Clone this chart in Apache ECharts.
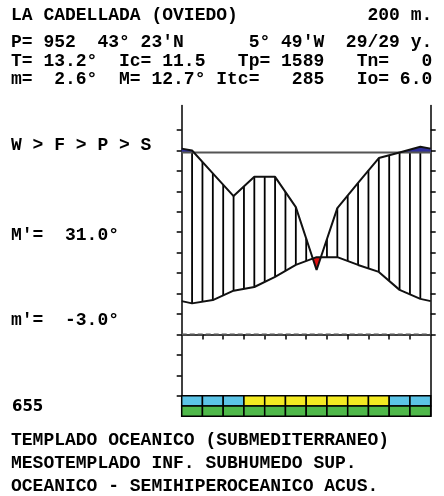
<!DOCTYPE html>
<html><head><meta charset="utf-8">
<script src="https://cdn.jsdelivr.net/npm/echarts@6/dist/echarts.min.js"></script>
<style>html,body{margin:0;padding:0;background:#fff}#c{width:444px;height:496px}</style>
</head><body><div id="c"></div>
<script>
// ---- data ----
const months = ['Jan','Feb','Mar','Apr','May','Jun','Jul','Aug','Sep','Oct','Nov','Dec'];
const temperature = [7.6, 8.4, 10.7, 11.6, 14.1, 17.0, 18.9, 18.9, 17.0, 15.3, 10.9, 8.7];
const precipitation = [99, 78.8, 67.7, 77.1, 77.1, 62.3, 31.5, 61.8, 74.1, 86.3, 89.4, 117];
const frostRow = ['C','C','C','W','W','W','W','W','W','W','C','C'];
const activityRow = ['G','G','G','G','G','G','G','G','G','G','G','G'];
const leftTicks = [-15,-10,-5,0,5,10,15,20,25,30,35,40,45,50];
const rightTicks = [0,5,10,15,20,25,30,35,40,45,50];
const monthTicks = [1,2,3,4,5,6,7,8,9,10,11];
const headerLines = [
  "LA CADELLADA (OVIEDO)            200 m.",
  "P= 952  43° 23'N      5° 49'W  29/29 y.",
  "T= 13.2°  Ic= 11.5   Tp= 1589   Tn=   0",
  "m=  2.6°  M= 12.7° Itc=   285   Io= 6.0"
];
const sideTexts = ["W > F > P > S", "M'=  31.0°", "m'=  -3.0°"];
const stationCode = "655";
const footerLines = [
  "TEMPLADO OCEANICO (SUBMEDITERRANEO)",
  "MESOTEMPLADO INF. SUBHUMEDO SUP.",
  "OCEANICO - SEMIHIPEROCEANICO ACUS."
];
const P_THRESHOLD = 89;   // mm, level of the horizontal line

// ---- derived ----
const THR = P_THRESHOLD / 2;
const pPlot = mm => mm <= P_THRESHOLD ? mm / 2 : THR + (mm - P_THRESHOLD) / 20;
const pUnits = precipitation.map(pPlot);
const knotsX = [0].concat(months.map((m, i) => i + 0.5), [12]);
const wrap = a => { const e = (a[0] + a[a.length - 1]) / 2; return [e].concat(a, [e]); };
const tK = wrap(temperature);
const pK = wrap(pUnits);
const thrK = knotsX.map(() => THR);
function interp(arr, x) {
  for (let i = 1; i < knotsX.length; i++) {
    if (x <= knotsX[i]) {
      const t = (x - knotsX[i - 1]) / (knotsX[i] - knotsX[i - 1]);
      return arr[i - 1] + t * (arr[i] - arr[i - 1]);
    }
  }
  return arr[arr.length - 1];
}
function regions(A, B, api) {
  const polys = []; let cur = null;
  for (let i = 0; i < knotsX.length; i++) {
    const d = A[i] - B[i];
    if (i > 0) {
      const dp = A[i - 1] - B[i - 1];
      if ((dp > 0) !== (d > 0)) {
        const t = dp / (dp - d);
        const x = knotsX[i - 1] + t * (knotsX[i] - knotsX[i - 1]);
        const y = A[i - 1] + t * (A[i] - A[i - 1]);
        if (cur) { cur.top.push([x, y]); cur.bot.push([x, y]); polys.push(cur); cur = null; }
        else { cur = { top: [[x, y]], bot: [[x, y]] }; }
      }
    }
    if (d > 0) {
      if (!cur) cur = { top: [], bot: [] };
      cur.top.push([knotsX[i], A[i]]); cur.bot.push([knotsX[i], B[i]]);
    }
  }
  if (cur) polys.push(cur);
  return polys.map(p => p.top.concat(p.bot.slice().reverse()).map(pt => api.coord(pt)));
}
function renderFills(params, api) {
  const children = [];
  regions(pK, thrK, api).forEach(pts => children.push({ type: 'polygon', shape: { points: pts }, style: { fill: '#2e2e9c' } }));
  regions(tK, pK, api).forEach(pts => children.push({ type: 'polygon', shape: { points: pts }, style: { fill: '#e01010' } }));
  for (let k = 1; k <= 23; k++) {
    const x = k * 0.5;
    const top = Math.min(interp(pK, x), THR);
    const bot = interp(tK, x);
    if (top > bot) {
      const a = api.coord([x, top]), b = api.coord([x, bot]);
      children.push({ type: 'line', shape: { x1: a[0], y1: a[1], x2: b[0], y2: b[1] }, style: { stroke: '#000', lineWidth: 1.8 } });
    }
  }
  return { type: 'group', children };
}
const cellColors = { C: '#5cc4e6', W: '#f3ea22', G: '#4fb84a' };
const cellData = [];
frostRow.forEach((c, i) => cellData.push([i, 0, c]));
activityRow.forEach((c, i) => cellData.push([i, 1, c]));
function renderCell(params, api) {
  const i = api.value(0), r = api.value(1);
  const code = cellData[params.dataIndex][2];
  const yTop = r === 0 ? -15 : -17.5, yBot = r === 0 ? -17.5 : -20;
  const p1 = api.coord([i, yTop]), p2 = api.coord([i + 1, yBot]);
  return { type: 'rect', shape: { x: p1[0], y: p1[1], width: p2[0] - p1[0], height: p2[1] - p1[1] },
    style: { fill: cellColors[code], stroke: '#000', lineWidth: 1.5 } };
}

const FONT = 'bold 18px "Liberation Mono", "Courier New", monospace';
const graphics = [];
const headerY = [15, 42, 61, 79];
headerLines.forEach((t, i) => graphics.push({ type: 'text', x: 11, y: headerY[i], style: { text: t, font: FONT, fill: '#000', verticalAlign: 'middle' } }));
const sideY = [145, 235, 320];
sideTexts.forEach((t, i) => graphics.push({ type: 'text', x: 11, y: sideY[i], style: { text: t, font: FONT, fill: '#000', verticalAlign: 'middle' } }));
graphics.push({ type: 'text', x: 12, y: 407, style: { text: stationCode, font: 'bold 15px "DejaVu Sans", sans-serif', fill: '#000', verticalAlign: 'middle' } });
const footerY = [440, 463, 486];
footerLines.forEach((t, i) => graphics.push({ type: 'text', x: 11, y: footerY[i], style: { text: t, font: FONT, fill: '#000', verticalAlign: 'middle' } }));

const chart = echarts.init(document.getElementById('c'), null, { renderer: 'canvas' });
chart.setOption({
  animation: false,
  backgroundColor: '#fff',
  grid: { left: 181.7, right: 13.3, top: 105.5, bottom: 79.8 },
  xAxis: {
    type: 'value', min: 0, max: 12, interval: 1,
    axisLine: { show: true, lineStyle: { color: '#000', width: 1.5 } },
    axisTick: { show: true, length: 5, customValues: monthTicks, lineStyle: { color: '#000', width: 1.5 } },
    axisLabel: { show: false }, splitLine: { show: false }
  },
  yAxis: [
    { type: 'value', min: -20, max: 56, position: 'left',
      axisLine: { show: true, onZero: false, lineStyle: { color: '#000', width: 1.5 } },
      axisTick: { show: true, length: 5, customValues: leftTicks, lineStyle: { color: '#000', width: 1.5 } },
      axisLabel: { show: false }, splitLine: { show: false } },
    { type: 'value', min: -20, max: 56, position: 'right',
      axisLine: { show: true, onZero: false, lineStyle: { color: '#000', width: 1.5 } },
      axisTick: { show: true, length: 5, customValues: rightTicks, lineStyle: { color: '#000', width: 1.5 } },
      axisLabel: { show: false }, splitLine: { show: false } }
  ],
  graphic: graphics,
  series: [
    { type: 'custom', renderItem: renderFills, data: [[0, 0]], z: 1, silent: true, clip: false },
    { type: 'line', data: [[0, 0], [12, 0]], symbol: 'none', z: 2, lineStyle: { color: '#555', width: 2, type: [5, 3] } },
    { type: 'line', data: [[0, THR], [12, THR]], symbol: 'none', z: 2, lineStyle: { color: '#555', width: 2 } },
    { type: 'line', data: knotsX.map((x, i) => [x, tK[i]]), symbol: 'none', z: 3, lineStyle: { color: '#111', width: 2 } },
    { type: 'line', data: knotsX.map((x, i) => [x, pK[i]]), symbol: 'none', z: 3, lineStyle: { color: '#111', width: 2 } },
    { type: 'custom', renderItem: renderCell, data: cellData.map(d => [d[0], d[1]]), z: 4, silent: true, clip: false }
  ]
});
</script>
</body></html>
